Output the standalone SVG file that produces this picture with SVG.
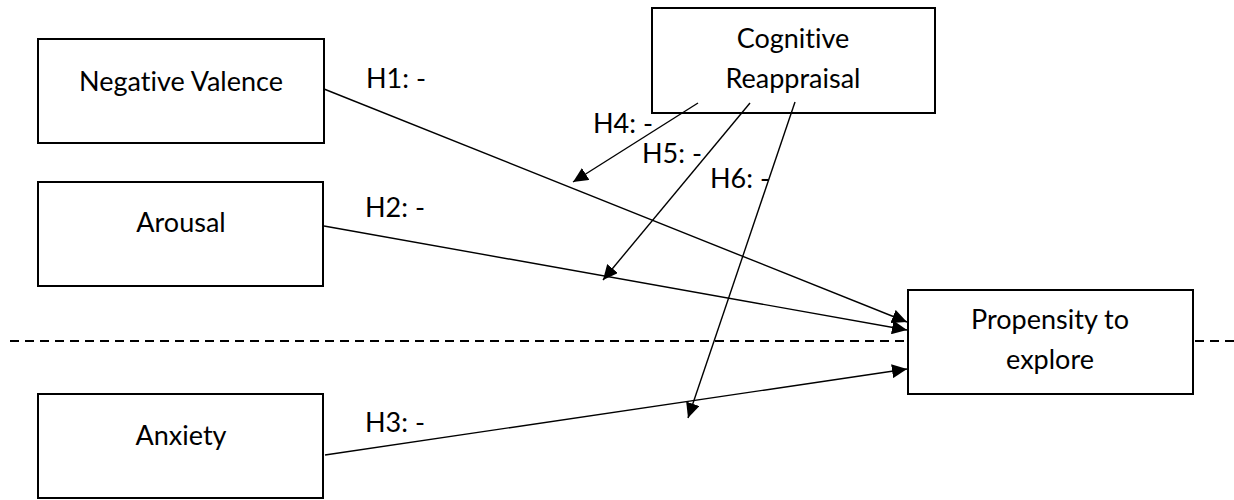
<svg xmlns="http://www.w3.org/2000/svg" width="1234" height="500" viewBox="0 0 1234 500">
  <style>
    .box { fill: #ffffff; stroke: #000000; stroke-width: 2; }
    .lbl { font-family: "Lato", "Liberation Sans", sans-serif; font-size: 27px; fill: #000000; font-variant-ligatures: none; }
    .mid { text-anchor: middle; }
    .edge { stroke: #000000; stroke-width: 1.4; fill: none; marker-end: url(#arrow); }
    .divider { stroke: #000000; stroke-width: 2; stroke-dasharray: 9 6; }
  </style>
  <defs>
    <marker id="arrow" markerUnits="userSpaceOnUse" markerWidth="16" markerHeight="14" refX="15" refY="7" orient="auto">
      <path d="M0,0 L15,7 L0,14 z" fill="#000000"/>
    </marker>
  </defs>
  <rect width="1234" height="500" fill="#ffffff"/>

  <!-- group boundary -->
  <line class="divider" x1="10" y1="341" x2="1234" y2="341"/>

  <g id="node-negative-valence">
    <rect class="box" x="38" y="39" width="286" height="104"/>
    <text class="lbl mid" x="181" y="91">Negative Valence</text>
  </g>
  <g id="node-arousal">
    <rect class="box" x="38" y="182" width="285" height="104"/>
    <text class="lbl mid" x="181" y="232">Arousal</text>
  </g>
  <g id="node-anxiety">
    <rect class="box" x="38" y="394" width="285" height="104"/>
    <text class="lbl mid" x="181" y="445">Anxiety</text>
  </g>
  <g id="node-cognitive-reappraisal">
    <rect class="box" x="652" y="8" width="283" height="105"/>
    <text class="lbl mid" x="793" y="48">Cognitive</text>
    <text class="lbl mid" x="793" y="88">Reappraisal</text>
  </g>
  <g id="node-propensity">
    <rect class="box" x="908" y="290" width="285" height="104"/>
    <text class="lbl mid" x="1050" y="329">Propensity to</text>
    <text class="lbl mid" x="1050" y="369">explore</text>
  </g>

  <g id="connectors">
    <line class="edge" x1="324" y1="89" x2="907" y2="322"/>
    <line class="edge" x1="324" y1="226" x2="907" y2="330"/>
    <line class="edge" x1="325" y1="455" x2="907" y2="369"/>
    <line class="edge" x1="698" y1="103" x2="573" y2="182"/>
    <line class="edge" x1="750" y1="103" x2="603" y2="280"/>
    <line class="edge" x1="795" y1="102" x2="688" y2="418"/>
  </g>

  <g id="labels">
    <text class="lbl" x="366" y="88">H1: -</text>
    <text class="lbl" x="365" y="217">H2: -</text>
    <text class="lbl" x="365" y="432">H3: -</text>
    <text class="lbl" x="593" y="133">H4: -</text>
    <text class="lbl" x="642" y="163">H5: -</text>
    <text class="lbl" x="710" y="188">H6: -</text>
  </g>
</svg>
